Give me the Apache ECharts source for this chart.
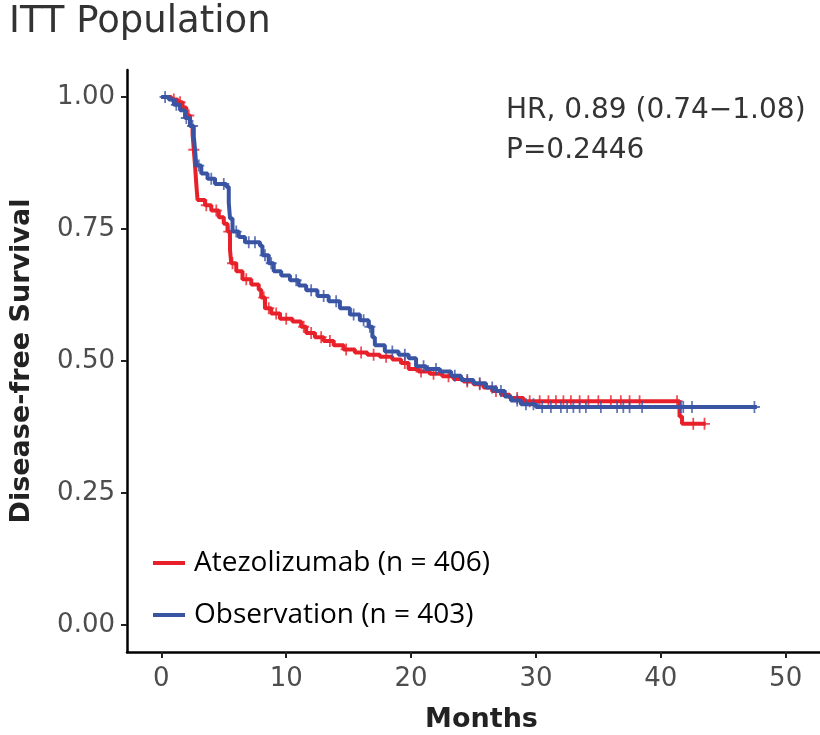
<!DOCTYPE html>
<html>
<head>
<meta charset="utf-8">
<title>ITT Population</title>
<script src="https://cdn.jsdelivr.net/npm/echarts@6.0.0/dist/echarts.min.js"></script>
<style>
html,body{margin:0;padding:0;background:#fff;}
#chart{width:820px;height:735px;}
</style>
</head>
<body>
<div id="chart"></div>
<script>
// Kaplan-Meier steps (months, survival)
var atezoTime = [0, 0.8, 1.3, 1.7, 2.0, 2.3, 2.5, 2.6, 2.7, 2.8, 2.9, 3.5, 4.0, 4.6, 5.0, 5.3, 5.5, 5.6, 6.0, 6.5, 7.2, 7.8, 8.0, 8.3, 8.8, 9.5, 10.5, 11.2, 11.6, 12.3, 13.0, 13.8, 14.6, 15.5, 16.5, 17.5, 18.5, 19.2, 19.8, 20.6, 21.5, 22.5, 23.4, 24.2, 25.0, 25.8, 26.5, 27.2, 27.9, 29.0, 41.5, 41.7, 43.6];
var atezoSurv = [1.0, 0.995, 0.99, 0.98, 0.965, 0.945, 0.93, 0.90, 0.87, 0.835, 0.805, 0.795, 0.785, 0.772, 0.76, 0.745, 0.71, 0.685, 0.67, 0.655, 0.645, 0.635, 0.62, 0.60, 0.59, 0.58, 0.575, 0.565, 0.553, 0.545, 0.538, 0.53, 0.522, 0.516, 0.512, 0.508, 0.503, 0.496, 0.485, 0.48, 0.476, 0.471, 0.466, 0.461, 0.456, 0.45, 0.443, 0.436, 0.43, 0.424, 0.395, 0.381, 0.381];
var obsTime = [0, 0.6, 1.0, 1.5, 1.9, 2.3, 2.6, 2.7, 2.8, 3.2, 3.7, 4.3, 5.2, 5.4, 5.5, 5.7, 6.2, 6.7, 7.9, 8.1, 8.6, 9.0, 9.6, 10.3, 11.0, 11.6, 12.5, 13.4, 14.3, 15.1, 15.9, 16.6, 16.9, 17.1, 17.9, 19.0, 19.8, 20.4, 21.2, 22.3, 23.2, 24.0, 25.0, 26.0, 26.8, 27.5, 28.0, 28.8, 30.0, 47.7];
var obsSurv = [1.0, 0.995, 0.985, 0.975, 0.96, 0.945, 0.925, 0.90, 0.87, 0.855, 0.845, 0.835, 0.83, 0.80, 0.77, 0.745, 0.735, 0.725, 0.718, 0.70, 0.685, 0.67, 0.662, 0.653, 0.643, 0.634, 0.623, 0.613, 0.60, 0.588, 0.577, 0.565, 0.545, 0.53, 0.518, 0.512, 0.505, 0.49, 0.485, 0.48, 0.472, 0.464, 0.458, 0.45, 0.443, 0.433, 0.425, 0.418, 0.413, 0.413];

// censored times (+ marks)
var atezoCensor = [1.0, 1.5, 2.2, 2.6, 3.6, 4.4, 5.4, 5.7, 6.8, 8.2, 8.6, 9.2, 10.0, 11.4, 12.0, 12.8, 13.5, 14.8, 16.0, 17.0, 18.0, 19.5, 20.8, 21.8, 23.0, 24.5, 25.5, 26.8, 28.5, 29.5, 30.3, 31.0, 31.6, 32.2, 32.8, 33.5, 34.2, 35.0, 36.0, 36.8, 37.5, 38.3, 41.3, 42.6, 43.5];
var obsCensor = [0.3, 1.2, 2.0, 2.5, 3.0, 4.0, 5.0, 6.0, 7.0, 7.5, 8.3, 8.8, 10.8, 12.0, 13.0, 14.0, 15.4, 16.2, 16.7, 18.5, 19.5, 21.0, 22.0, 23.5, 24.5, 25.5, 26.5, 27.2, 28.5, 29.2, 29.8, 30.5, 31.2, 32.0, 32.5, 33.0, 33.5, 34.0, 35.2, 36.5, 37.0, 37.5, 38.5, 41.6, 41.8, 42.5, 47.5];

var xTicks = [0, 10, 20, 30, 40, 50];
var yTicks = [0, 0.25, 0.5, 0.75, 1.0];

var seriesNames = ['Atezolizumab (n = 406)', 'Observation (n = 403)'];
var RED = '#e8202a';
var BLUE = '#3a54a4';
var PLUS = 'path://M-0.8,-5 L0.8,-5 L0.8,-0.8 L5,-0.8 L5,0.8 L0.8,0.8 L0.8,5 L-0.8,5 L-0.8,0.8 L-5,0.8 L-5,-0.8 L-0.8,-0.8 Z';

function stepData(times, surv){
	var d = [];
	for(var i = 0; i < times.length; i++){
		d.push([times[i], surv[i]]);
	}
	return d;
}
//survival at a censor time = last step at or before it
function censorData(times, surv, cens){
	var d = [];
	for(var j = 0; j < cens.length; j++){
		var s = surv[0];
		for(var i = 0; i < times.length; i++){
			if(times[i] <= cens[j]) s = surv[i];
		}
		d.push([cens[j], s]);
	}
	return d;
}

function drawChart(){
	var mychart = echarts.init(document.getElementById('chart'));
	var option = {
		animation: false,
		grid: {
			left: 127, right: 0, top: 70, bottom: 83,
			containLabel: false,
			outerBoundsMode: 'none'
		},
		legend: {
			orient: 'vertical',
			left: 148,
			top: 543,
			itemWidth: 32,
			itemHeight: 4,
			itemGap: 22,
			icon: 'rect',
			selectedMode: false,
			data: seriesNames,
			textStyle: {
				fontFamily: 'Open Sans',
				fontSize: 28,
				lineHeight: 30,
				color: '#000',
				padding: [0, 0, 0, 4]
			}
		},
		xAxis: {
			type: 'value',
			min: -2.75,
			max: 52.75,
			name: 'Months',
			nameLocation: 'middle',
			nameGap: 54,
			nameTextStyle: {fontFamily: 'DejaVu Sans', fontSize: 27, fontWeight: 'bold', color: '#222', padding: [0, 0, 0, 16]},
			splitLine: {show: false},
			axisLine: {show: true, onZero: false, lineStyle: {color: '#000', width: 2.5}},
			axisTick: {show: true, length: 6, customValues: xTicks, lineStyle: {color: '#222', width: 2}},
			axisLabel: {
				customValues: xTicks,
				margin: 14,
				fontFamily: 'DejaVu Sans',
				fontSize: 26,
				color: '#4d4d4d'
			}
		},
		yAxis: {
			type: 'value',
			min: -0.051,
			max: 1.051,
			name: 'Disease-free Survival',
			nameLocation: 'middle',
			nameGap: 92,
			nameTextStyle: {fontFamily: 'DejaVu Sans', fontSize: 27, fontWeight: 'bold', color: '#222'},
			splitLine: {show: false},
			axisLine: {show: true, onZero: false, lineStyle: {color: '#000', width: 2.5}},
			axisTick: {show: true, length: 6, customValues: yTicks, lineStyle: {color: '#222', width: 2}},
			axisLabel: {
				customValues: yTicks,
				margin: 12,
				fontFamily: 'DejaVu Sans',
				fontSize: 26,
				color: '#4d4d4d',
				formatter: function(v){ return v.toFixed(2); }
			}
		},
		series: [{
			name: seriesNames[0],
			type: 'line',
			step: 'end',
			showSymbol: false,
			color: RED,
			lineStyle: {color: RED, width: 4},
			data: stepData(atezoTime, atezoSurv),
			z: 2
		}, {
			name: 'atezoCensor',
			type: 'scatter',
			symbol: PLUS,
			symbolSize: [11, 12],
			itemStyle: {color: RED},
			data: censorData(atezoTime, atezoSurv, atezoCensor),
			z: 2
		}, {
			name: seriesNames[1],
			type: 'line',
			step: 'end',
			showSymbol: false,
			color: BLUE,
			lineStyle: {color: BLUE, width: 4},
			data: stepData(obsTime, obsSurv),
			z: 3
		}, {
			name: 'obsCensor',
			type: 'scatter',
			symbol: PLUS,
			symbolSize: [11, 12],
			itemStyle: {color: BLUE},
			data: censorData(obsTime, obsSurv, obsCensor),
			z: 3
		}],
		graphic: [{
			type: 'text',
			left: 9,
			top: 4,
			style: {text: 'ITT Population', font: '37px "DejaVu Sans"', fill: '#333'}
		}, {
			type: 'text',
			left: 506,
			top: 97,
			style: {text: 'HR, 0.89 (0.74\u22121.08)', font: '28px "DejaVu Sans"', fill: '#333'}
		}, {
			type: 'text',
			left: 506,
			top: 137,
			style: {text: 'P=0.2446', font: '28px "DejaVu Sans"', fill: '#333'}
		}]
	};
	mychart.setOption(option);
}
drawChart();
</script>
</body>
</html>
